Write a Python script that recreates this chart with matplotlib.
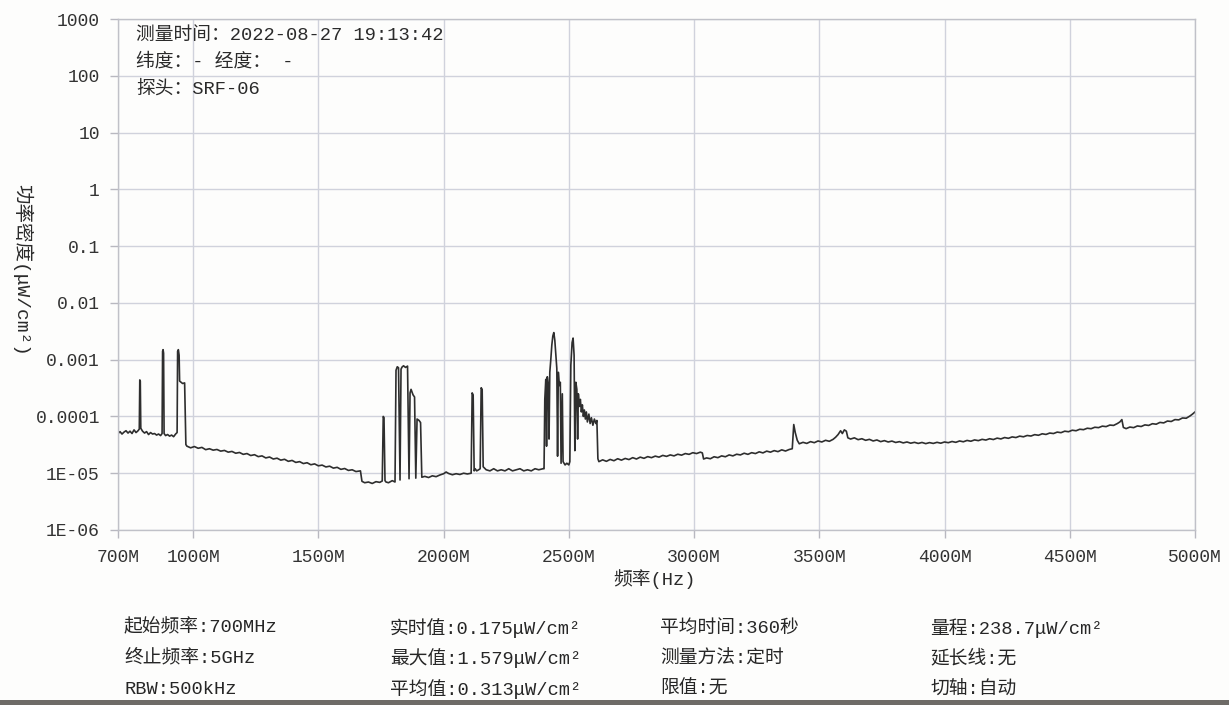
import numpy as np
import matplotlib.pyplot as plt
from matplotlib.patches import Rectangle
from matplotlib.ticker import NullLocator

# ASCII in a monospace face, Chinese falls through to the CJK font
MIXED = ['Liberation Mono', 'Noto Sans CJK SC', 'DejaVu Sans']
plt.rcParams['font.family'] = MIXED

# 700-970 MHz: baseline with the three narrow carriers
band_a_freq = [700, 708, 716, 724, 732, 740, 748, 756, 764, 772, 780, 785, 787, 789, 791,
               798, 806, 814, 822, 830, 838, 846, 854, 862, 870, 876, 878, 880, 882, 884,
               890, 898, 906, 914, 922, 930, 936, 938, 941, 944, 946, 952, 958, 966, 971]
band_a_power = [5.0e-5, 5.4e-5, 4.9e-5, 5.3e-5, 5.6e-5, 5.1e-5, 5.5e-5, 5.0e-5, 5.8e-5, 5.2e-5,
                5.6e-5, 6.0e-5, 4.4e-4, 4.2e-4, 6.2e-5,
                5.5e-5, 5.1e-5, 5.4e-5, 4.8e-5, 5.2e-5, 4.9e-5, 5.0e-5, 4.7e-5, 4.9e-5, 4.6e-5,
                5.0e-5, 1.4e-3, 1.5e-3, 1.3e-3, 5.0e-5,
                4.6e-5, 4.8e-5, 4.5e-5, 4.7e-5, 4.4e-5, 4.9e-5, 5.2e-5, 1.4e-3, 1.5e-3, 1.2e-3,
                4.2e-4, 4.0e-4, 3.8e-4, 3.9e-4, 3.2e-5]

# 975-1670 MHz: slowly falling floor
band_b_freq = [975, 990, 1005, 1020, 1035, 1050, 1065, 1080, 1095, 1110, 1125, 1140, 1155,
               1170, 1185, 1200, 1215, 1230, 1245, 1260, 1275, 1290, 1305, 1320, 1335, 1350,
               1365, 1380, 1395, 1410, 1425, 1440, 1455, 1470, 1485, 1500, 1515, 1530, 1545,
               1560, 1575, 1590, 1605, 1620, 1635, 1650, 1668]
band_b_power = [3.0e-5, 2.8e-5, 2.95e-5, 2.75e-5, 2.85e-5, 2.6e-5, 2.7e-5, 2.55e-5, 2.62e-5,
                2.45e-5, 2.52e-5, 2.35e-5, 2.42e-5, 2.25e-5, 2.32e-5, 2.15e-5, 2.22e-5, 2.05e-5,
                2.12e-5, 1.96e-5, 2.02e-5, 1.86e-5, 1.93e-5, 1.78e-5, 1.84e-5, 1.7e-5, 1.76e-5,
                1.62e-5, 1.68e-5, 1.55e-5, 1.6e-5, 1.48e-5, 1.53e-5, 1.41e-5, 1.46e-5, 1.35e-5,
                1.39e-5, 1.29e-5, 1.33e-5, 1.23e-5, 1.27e-5, 1.17e-5, 1.21e-5, 1.12e-5, 1.15e-5,
                1.07e-5, 1.1e-5]

# 1674-2400 MHz: GSM1800 / 2100 bursts
band_c_freq = [1674, 1685, 1700, 1715, 1730, 1745, 1755, 1759, 1762, 1766, 1770, 1780, 1795,
               1806, 1810, 1815, 1820, 1826, 1830, 1834, 1840, 1848, 1856, 1862, 1866, 1870,
               1878, 1884, 1889, 1894, 1902, 1908, 1913, 1925, 1940, 1955, 1970, 1985, 2000,
               2010, 2020, 2035, 2050, 2065, 2080, 2095, 2110, 2114, 2118, 2122, 2126, 2132,
               2140, 2146, 2150, 2154, 2158, 2170, 2185, 2200, 2215, 2230, 2245, 2260, 2275,
               2290, 2305, 2320, 2335, 2350, 2365, 2380, 2397]
band_c_power = [7.2e-6, 6.8e-6, 7.0e-6, 6.6e-6, 7.1e-6, 6.9e-6, 7.3e-6, 1.0e-4, 9.5e-5, 7.4e-6,
                7.0e-6, 6.8e-6, 7.4e-6,
                7.0e-6, 6.5e-4, 7.5e-4, 7.2e-4, 7.6e-6, 6.8e-4, 7.4e-4, 7.8e-4, 7.3e-4, 7.7e-4,
                8.0e-6, 2.6e-4, 3.0e-4,
                2.4e-4, 2.2e-4, 8.2e-6, 9.0e-5, 8.5e-5, 7.8e-5, 8.5e-6, 8.8e-6, 8.4e-6, 9.0e-6,
                8.7e-6, 9.3e-6, 9.8e-6,
                1.05e-5, 9.9e-6, 9.4e-6, 9.8e-6, 9.5e-6, 1.0e-5, 9.7e-6, 1.0e-5, 2.6e-4, 2.4e-4,
                1.1e-5, 1.2e-5, 1.1e-5,
                1.15e-5, 1.2e-5, 3.2e-4, 3.0e-4, 1.3e-5, 1.15e-5, 1.1e-5, 1.2e-5, 1.1e-5,
                1.15e-5, 1.1e-5, 1.2e-5, 1.1e-5,
                1.15e-5, 1.2e-5, 1.1e-5, 1.15e-5, 1.1e-5, 1.2e-5, 1.15e-5, 1.2e-5]

# 2400-2620 MHz: WLAN / LTE cluster
band_d_freq = [2401, 2404, 2408, 2411, 2414, 2418, 2421, 2424, 2428, 2432, 2436, 2440, 2444,
               2448, 2452, 2455, 2458, 2462, 2466, 2469, 2474, 2477, 2485, 2492, 2500, 2504,
               2508, 2513, 2517, 2521, 2524, 2528, 2532, 2535, 2538, 2542, 2546, 2550, 2554,
               2558, 2562, 2566, 2570, 2574, 2580, 2585, 2590, 2596, 2602, 2608, 2612, 2616]
band_d_power = [1.2e-5, 2.0e-4, 4.5e-4, 3.0e-5, 5.0e-4, 3.5e-4, 4.0e-5, 6.0e-4, 1.0e-3, 1.8e-3,
                2.6e-3, 3.0e-3, 2.2e-3,
                1.2e-3, 7.0e-4, 2.0e-5, 6.0e-4, 3.5e-4, 4.0e-4, 1.5e-5, 2.5e-4, 1.6e-5, 1.4e-5,
                1.5e-5, 1.4e-5, 1.6e-5,
                8.0e-4, 2.0e-3, 2.4e-3, 1.2e-3, 2.5e-5, 4.0e-4, 3.0e-4, 4.0e-5, 2.5e-4, 1.5e-4,
                2.0e-4, 1.2e-4, 1.6e-4,
                1.0e-4, 1.3e-4, 9.0e-5, 1.2e-4, 8.0e-5, 1.1e-4, 7.5e-5, 9.5e-5, 7.0e-5, 9.0e-5,
                7.5e-5, 8.5e-5, 1.8e-5]

# 2620-5000 MHz: rising floor
band_e_freq = [2620, 2635, 2650, 2665, 2680, 2695, 2710, 2725, 2740, 2755, 2770, 2785, 2800,
               2815, 2830, 2845, 2860, 2875, 2890, 2905, 2920, 2935, 2950, 2965, 2980, 2995,
               3010, 3025, 3033, 3038, 3050, 3065, 3080, 3095, 3110, 3125, 3140, 3155, 3170,
               3185, 3200, 3215, 3230, 3245, 3260, 3275, 3290, 3305, 3320, 3335, 3350, 3365,
               3380, 3392, 3398, 3404, 3412, 3420, 3435, 3450, 3465, 3480, 3495, 3510, 3525,
               3540, 3555, 3565, 3575, 3585, 3592, 3600, 3608, 3614, 3625, 3640, 3655, 3670,
               3685, 3700, 3715, 3730, 3745, 3760, 3775, 3790, 3805, 3820, 3835, 3850, 3865,
               3880, 3895, 3910, 3925, 3940, 3955, 3970, 3985, 4000, 4015, 4030, 4045, 4060,
               4075, 4090, 4105, 4120, 4135, 4150, 4165, 4180, 4195, 4210, 4225, 4240, 4255,
               4270, 4285, 4300, 4315, 4330, 4345, 4360, 4375, 4390, 4405, 4420, 4435, 4450,
               4465, 4480, 4495, 4510, 4525, 4540, 4555, 4570, 4585, 4600, 4615, 4630, 4645,
               4660, 4675, 4690, 4700, 4708, 4714, 4725, 4740, 4755, 4770, 4785, 4800, 4815,
               4830, 4845, 4860, 4875, 4890, 4905, 4920, 4935, 4950, 4965, 4980, 4990, 5000]
band_e_power = [1.6e-5, 1.72e-5, 1.62e-5, 1.75e-5, 1.66e-5, 1.8e-5, 1.7e-5, 1.82e-5, 1.74e-5,
                1.88e-5, 1.78e-5, 1.92e-5, 1.83e-5,
                1.96e-5, 1.88e-5, 2.0e-5, 1.92e-5, 2.06e-5, 1.98e-5, 2.1e-5, 2.02e-5, 2.16e-5,
                2.08e-5, 2.22e-5, 2.15e-5, 2.3e-5,
                2.22e-5, 2.35e-5, 2.28e-5, 1.78e-5, 1.86e-5, 1.8e-5, 1.95e-5, 1.88e-5, 2.02e-5,
                1.95e-5, 2.1e-5, 2.02e-5, 2.16e-5,
                2.1e-5, 2.25e-5, 2.15e-5, 2.3e-5, 2.22e-5, 2.38e-5, 2.28e-5, 2.45e-5, 2.35e-5,
                2.5e-5, 2.4e-5, 2.58e-5, 2.46e-5,
                2.62e-5, 2.7e-5, 7.2e-5, 5.2e-5, 3.8e-5, 3.3e-5, 3.5e-5, 3.35e-5, 3.6e-5,
                3.45e-5, 3.7e-5, 3.55e-5, 3.8e-5,
                3.65e-5, 3.95e-5, 4.3e-5, 4.8e-5, 5.6e-5, 5.0e-5, 5.8e-5, 5.5e-5, 4.2e-5,
                4.0e-5, 4.2e-5, 3.9e-5, 4.05e-5,
                3.8e-5, 3.95e-5, 3.7e-5, 3.85e-5, 3.6e-5, 3.75e-5, 3.55e-5, 3.68e-5, 3.48e-5,
                3.6e-5, 3.42e-5, 3.55e-5, 3.38e-5,
                3.5e-5, 3.35e-5, 3.48e-5, 3.32e-5, 3.46e-5, 3.35e-5, 3.5e-5, 3.38e-5, 3.55e-5,
                3.45e-5, 3.62e-5, 3.5e-5, 3.7e-5,
                3.58e-5, 3.78e-5, 3.66e-5, 3.86e-5, 3.75e-5, 3.95e-5, 3.84e-5, 4.05e-5, 3.92e-5,
                4.15e-5, 4.02e-5, 4.25e-5, 4.12e-5,
                4.36e-5, 4.25e-5, 4.5e-5, 4.38e-5, 4.62e-5, 4.52e-5, 4.78e-5, 4.66e-5, 4.95e-5,
                4.82e-5, 5.1e-5, 5.0e-5, 5.3e-5,
                5.18e-5, 5.5e-5, 5.38e-5, 5.72e-5, 5.6e-5, 5.95e-5, 5.85e-5, 6.2e-5, 6.08e-5,
                6.45e-5, 6.35e-5, 6.75e-5, 6.62e-5,
                7.05e-5, 6.95e-5, 7.5e-5, 8.0e-5, 8.8e-5, 6.4e-5, 6.1e-5, 6.5e-5, 6.35e-5,
                6.8e-5, 6.65e-5, 7.1e-5, 6.95e-5,
                7.45e-5, 7.3e-5, 7.85e-5, 7.7e-5, 8.3e-5, 8.15e-5, 8.8e-5, 8.7e-5, 9.4e-5,
                9.3e-5, 1.02e-4, 1.1e-4, 1.2e-4]

x_ticks = [700, 1000, 1500, 2000, 2500, 3000, 3500, 4000, 4500, 5000]
x_tick_labels = ['700M', '1000M', '1500M', '2000M', '2500M', '3000M', '3500M', '4000M',
                 '4500M', '5000M']
y_ticks = [1e-6, 1e-5, 1e-4, 1e-3, 1e-2, 1e-1, 1, 10, 100, 1000]
y_tick_labels = ['1E-06', '1E-05', '0.0001', '0.001', '0.01', '0.1', '1', '10', '100', '1000']

header_lines = ['测量时间：2022-08-27 19:13:42', '纬度：- 经度： -', '探头：SRF-06']
info_columns = [
    ['起始频率:700MHz', '终止频率:5GHz', 'RBW:500kHz'],
    ['实时值:0.175μW/cm²', '最大值:1.579μW/cm²', '平均值:0.313μW/cm²'],
    ['平均时间:360秒', '测量方法:定时', '限值:无'],
    ['量程:238.7μW/cm²', '延长线:无', '切轴:自动'],
]

freq = np.concatenate([band_a_freq, band_b_freq, band_c_freq, band_d_freq, band_e_freq])
power = np.concatenate([band_a_power, band_b_power, band_c_power, band_d_power, band_e_power])

W, H = 1229, 705
fig = plt.figure(figsize=(W / 100, H / 100), dpi=100)
fig.patch.set_facecolor('#fdfdfc')

def px(x, y):
    return x / W, 1 - y / H

ax = fig.add_axes([118 / W, 1 - 530 / H, (1195 - 118) / W, (530 - 19) / H])
ax.set_facecolor('#fdfdfc')
ax.plot(freq, power, color='#2e2e2e', lw=1.2)

ax.set_yscale('log')
ax.set_xlim(700, 5000)
ax.set_ylim(1e-6, 1e3)
ax.set_xticks(x_ticks)
ax.set_xticklabels(x_tick_labels, fontsize=13)
ax.set_yticks(y_ticks)
ax.set_yticklabels(y_tick_labels, fontsize=13)
ax.yaxis.set_minor_locator(NullLocator())
ax.tick_params(axis='both', length=6, width=1, color='#b8b8c0', labelcolor='#333333')
ax.tick_params(axis='x', pad=8)
ax.tick_params(axis='y', pad=7)
ax.grid(True, color='#d0d2dc', lw=1)
for s in ax.spines.values():
    s.set_color('#c0c1c8')
    s.set_linewidth(1)

# header block inside the plot
for i, line in enumerate(header_lines):
    fig.text(*px(136, 35 + 27 * i), line, fontsize=13.5, color='#2a2a2a', va='center')

fig.text(*px(655, 579), '频率(Hz)', fontsize=13.5, color='#2a2a2a', ha='center', va='center')
fig.text(*px(22, 270), '功率密度(μW/cm²)', fontsize=14, color='#2a2a2a',
         ha='center', va='center', rotation=-90)

col_x = [124, 390, 660, 930]
for cx, col in zip(col_x, info_columns):
    for j, line in enumerate(col):
        fig.text(*px(cx, 628 + 30.5 * j), line, fontsize=13.5, color='#262626', va='center')

# dark edge along the bottom of the page
fig.patches.append(Rectangle((0, 0), 1, 5 / H, transform=fig.transFigure,
                             facecolor='#6e6b67', edgecolor='none'))

fig.savefig('out.png', dpi=100, facecolor=fig.get_facecolor())
